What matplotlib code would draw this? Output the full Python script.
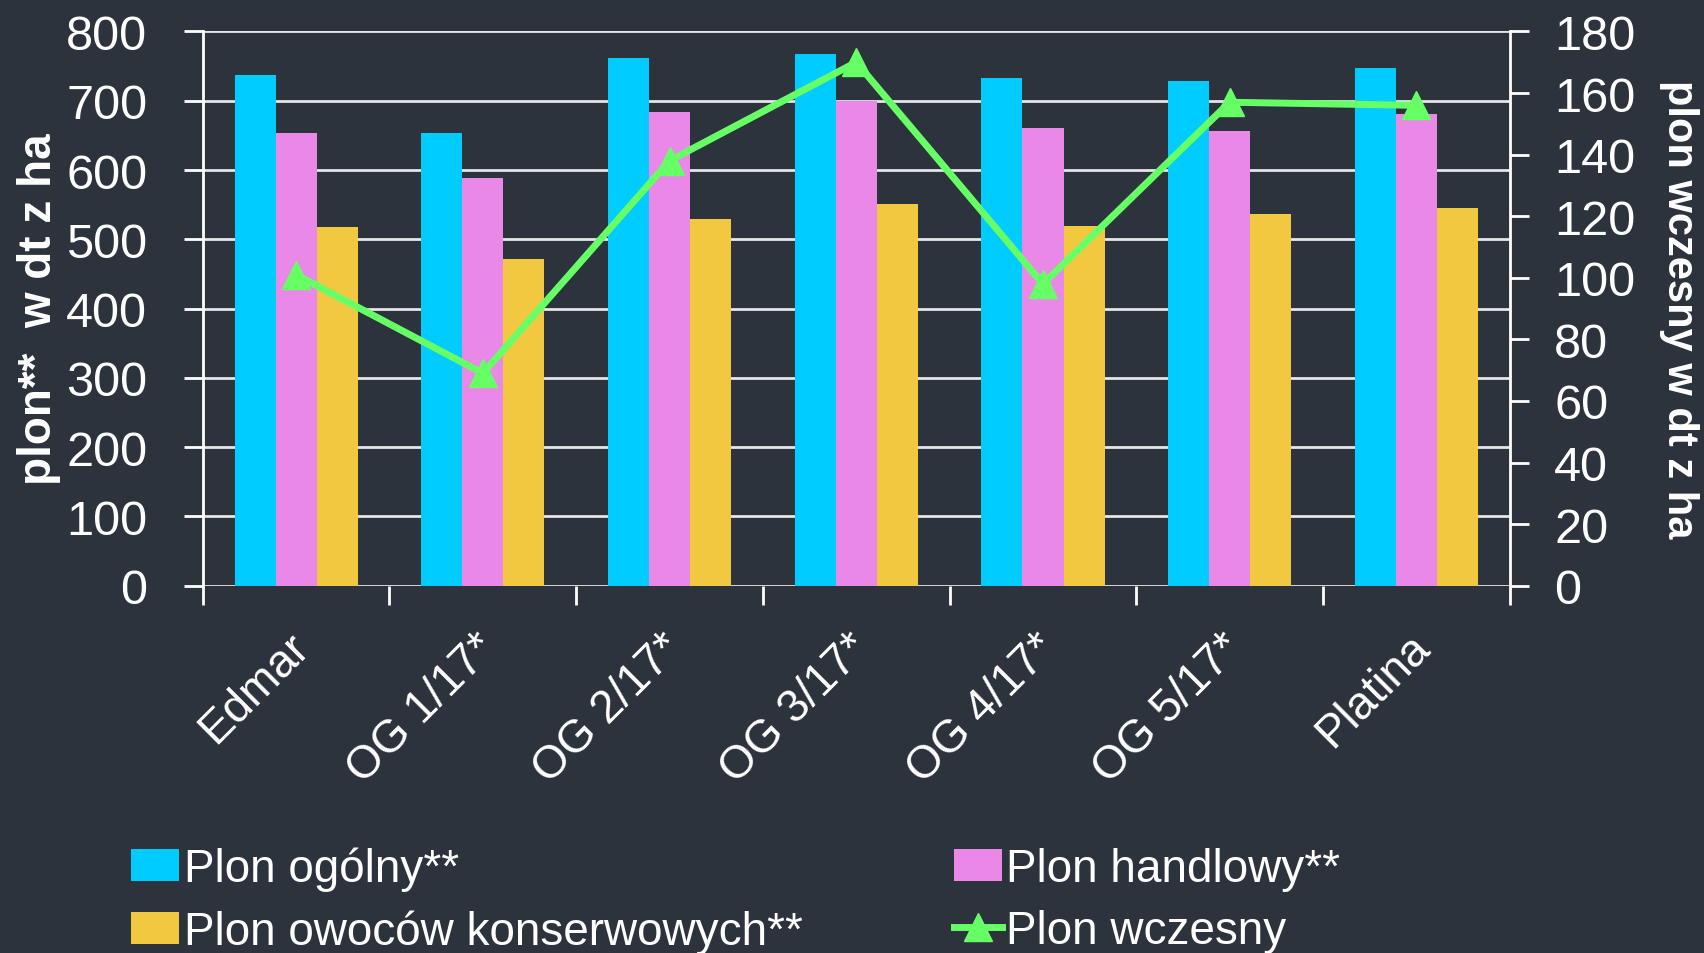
import numpy as np
import matplotlib
matplotlib.use('Agg')
import matplotlib.pyplot as plt
import matplotlib.transforms as mtransforms

# dane
odmiany = ['Edmar', 'OG 1/17*', 'OG 2/17*', 'OG 3/17*', 'OG 4/17*', 'OG 5/17*', 'Platina']
plon_ogolny = [737, 653, 762, 767, 733, 729, 747]
plon_handlowy = [653, 589, 684, 699, 660, 657, 681]
plon_konserw = [518, 471, 530, 551, 519, 536, 545]
plon_wczesny = [101, 69, 138, 170, 98, 157, 156]

BG = '#2d333c'
FG = 'white'
FS = 35

plt.rcParams['font.family'] = ['Liberation Sans', 'DejaVu Sans']

fig = plt.figure(figsize=(17.04, 9.54), dpi=100, facecolor=BG)
ax = fig.add_axes([0.119, 0.385, 0.767, 0.581])
ax.set_facecolor(BG)
ax2 = ax.twinx()

x = np.arange(len(odmiany))
w = 0.22
b1 = ax.bar(x - w, plon_ogolny, w, color='#00ccff', label='Plon ogólny**', zorder=3)
b2 = ax.bar(x, plon_handlowy, w, color='#ea88e8', label='Plon handlowy**', zorder=3)
b3 = ax.bar(x + w, plon_konserw, w, color='#f2c841', label='Plon owoców konserwowych**', zorder=3)
ln, = ax2.plot(x, plon_wczesny, color='#66ff66', lw=5, marker='^', ms=20,
               label='Plon wczesny', zorder=4)

ax.set_xlim(-0.5, len(odmiany) - 0.5)
ax.set_ylim(0, 800)
ax.set_yticks(np.arange(0, 801, 100))
ax2.set_ylim(0, 180)
ax2.set_yticks(np.arange(0, 181, 20))

ax.grid(axis='y', color='#e6e6e6', lw=2, zorder=0)
ax.set_axisbelow(True)

# ticks na granicach grup, etykiety w srodku
ax.set_xticks(np.arange(-0.5, len(odmiany)), minor=False)
ax.set_xticklabels([])
ax.set_xticks(x, minor=True)
ax.set_xticklabels(odmiany, minor=True, rotation=45, ha='right', rotation_mode='anchor',
                   fontsize=33, color=FG)
ax.tick_params(axis='x', which='minor', length=0, pad=28)
ax.tick_params(axis='x', which='major', length=14, width=2, color=FG)
ax.tick_params(axis='y', length=14, width=2, color=FG, labelsize=FS, labelcolor=FG, pad=26)
ax2.tick_params(axis='y', length=14, width=2, color=FG, labelsize=FS, labelcolor=FG, pad=18)

shift = mtransforms.ScaledTranslation(-9 / 100, 0, fig.dpi_scale_trans)
for lab in ax.get_xticklabels(minor=True):
    lab.set_transform(lab.get_transform() + shift)

for a in (ax, ax2):
    for s in a.spines.values():
        s.set_visible(False)
for side in ('left', 'right'):
    ax2.spines[side].set_visible(True)
    ax2.spines[side].set_color(FG)
    ax2.spines[side].set_linewidth(2)

ax.set_ylabel('plon**  w dt z ha', fontsize=33, color=FG, fontweight='bold', labelpad=4)
ax2.set_ylabel('plon wczesny w dt z ha', fontsize=30, color=FG, fontweight='bold',
               rotation=-90, labelpad=46)

fig.legend(handles=[b1, b3, b2, ln], ncol=2, loc='upper left',
           bbox_to_anchor=(0.066, 0.131), frameon=False, fontsize=33,
           labelcolor=FG, handlelength=1.05, handletextpad=0.1, columnspacing=3.3,
           labelspacing=0.4, borderaxespad=0)

fig.savefig('out.png', dpi=100, facecolor=BG)
